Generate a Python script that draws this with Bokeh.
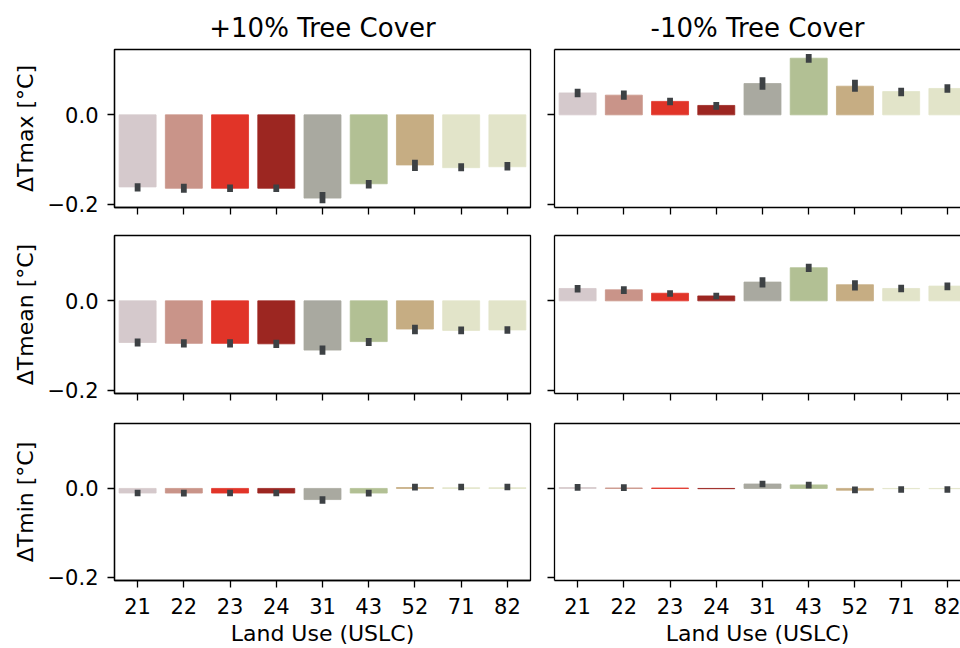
from bokeh.plotting import figure
from bokeh.models import Range1d, FixedTicker, CustomJSTickFormatter, LinearAxis, ColumnDataSource
from bokeh.layouts import gridplot
from bokeh.embed import file_html
from bokeh.resources import INLINE

nan = float("nan")

# ---------------- data ----------------
categories = ["21", "22", "23", "24", "31", "43", "52", "71", "82"]
bar_colors = ["#d5c9cc", "#c99489", "#e13428", "#9c2621", "#a9a9a0",
              "#b2c094", "#c6ad83", "#e2e4c9", "#e2e4c9"]

col_titles = ["+10% Tree Cover", "-10% Tree Cover"]
row_labels = ["\u0394Tmax [\u00b0C]", "\u0394Tmean [\u00b0C]", "\u0394Tmin [\u00b0C]"]
x_label = "Land Use (USLC)"
y_ticks = [-0.2, 0.0]

# +10% tree cover
tmax_inc = [-0.161, -0.164, -0.164, -0.164, -0.186, -0.154, -0.112, -0.118, -0.116]
tmax_inc_lo = [-0.1646, -0.1674, -0.166, -0.166, -0.191, -0.158, -0.119, -0.1196, -0.118]
tmax_inc_hi = [-0.1594, -0.1606, -0.162, -0.162, -0.179, -0.152, -0.107, -0.1144, -0.112]

tmean_inc = [-0.093, -0.095, -0.095, -0.096, -0.110, -0.091, -0.063, -0.066, -0.065]
tmean_inc_lo = [-0.0956, -0.0976, -0.0976, -0.0986, -0.114, -0.0946, -0.068, -0.068, -0.067]
tmean_inc_hi = [-0.0904, -0.0924, -0.0924, -0.0934, -0.106, -0.0894, -0.060, -0.064, -0.063]

tmin_inc = [-0.0103, -0.0104, -0.0104, -0.0104, -0.025, -0.0104, 0.002, 0.0015, 0.0015]
tmin_inc_lo = [-0.0112, -0.0114, -0.0112, -0.0112, -0.028, -0.0114, 0.002, 0.0022, 0.0022]
tmin_inc_hi = [-0.0092, -0.0094, -0.0096, -0.0096, -0.024, -0.0094, 0.004, 0.0038, 0.0038]

# -10% tree cover
tmax_dec = [0.049, 0.044, 0.030, 0.021, 0.070, 0.1265, 0.064, 0.052, 0.059]
tmax_dec_lo = [0.0458, 0.040, 0.028, 0.018, 0.0623, 0.1227, 0.058, 0.048, 0.056]
tmax_dec_hi = [0.0518, 0.048, 0.032, 0.022, 0.0777, 0.1293, 0.072, 0.054, 0.062]

tmean_dec = [0.0276, 0.0246, 0.017, 0.011, 0.042, 0.074, 0.036, 0.0276, 0.033]
tmean_dec_lo = [0.025, 0.022, 0.0154, 0.0101, 0.0364, 0.0712, 0.0297, 0.0256, 0.0304]
tmean_dec_hi = [0.029, 0.026, 0.0174, 0.0115, 0.0464, 0.0764, 0.0397, 0.0296, 0.0344]

tmin_dec = [0.002, 0.001, 0.0008, -0.0006, 0.010, 0.008, -0.004, -0.0006, -0.0006]
tmin_dec_lo = [0.0015, 0.001, nan, nan, 0.009, 0.0064, -0.0044, -0.003, -0.003]
tmin_dec_hi = [0.0035, 0.003, nan, nan, 0.011, 0.0084, -0.0024, -0.0014, -0.0014]

panels = [
    [(tmax_inc, tmax_inc_lo, tmax_inc_hi), (tmax_dec, tmax_dec_lo, tmax_dec_hi)],
    [(tmean_inc, tmean_inc_lo, tmean_inc_hi), (tmean_dec, tmean_dec_lo, tmean_dec_hi)],
    [(tmin_inc, tmin_inc_lo, tmin_inc_hi), (tmin_dec, tmin_dec_lo, tmin_dec_hi)],
]

# ---------------- layout ----------------
FONT = "DejaVu Sans"
TICK_FS = "21px"
LABEL_FS = "22px"
TITLE_FS = "26px"
ERR_COLOR = "#3d4144"

row_heights = [227, 186, 235]
row_top = [49, 8, 10]
row_bottom = [20, 20, 68]
col_widths = [542, 418]
px_per_unit = 416 / 9.0
right_frame_w = 418 - 12
right_x_end = -0.5 + right_frame_w / px_per_unit

minus_fmt = CustomJSTickFormatter(
    code="return (tick < -1e-9 ? '\u2212' : '') + Math.abs(tick).toFixed(1);")


def style_ticks(ax):
    ax.minor_tick_line_color = None
    ax.major_tick_in = 0
    ax.major_tick_out = 7
    ax.major_tick_line_width = 1.3
    ax.axis_line_width = 1.3
    ax.axis_line_color = "black"
    ax.major_tick_line_color = "black"


def hide_labels(ax):
    ax.major_label_text_color = None
    ax.major_label_standoff = 0


rows = []
for r in range(3):
    row_figs = []
    for c in range(2):
        vals, lo, hi = panels[r][c]
        left = (c == 0)
        bottom = (r == 2)
        p = figure(width=col_widths[c], height=row_heights[r],
                   x_range=Range1d(-0.5, 8.5 if left else right_x_end),
                   y_range=Range1d(-0.207, 0.146),
                   output_backend="svg", toolbar_location=None,
                   min_border_left=114 if left else 12,
                   min_border_right=12 if left else 0,
                   min_border_top=row_top[r], min_border_bottom=row_bottom[r])
        p.background_fill_color = "white"
        p.border_fill_color = "white"
        p.xgrid.visible = False
        p.ygrid.visible = False

        idx = list(range(len(categories)))
        src = ColumnDataSource(dict(x=idx, top=vals, color=bar_colors,
                                    lo=lo, hi=hi))
        p.vbar(x="x", top="top", bottom=0, width=0.8, source=src,
               fill_color="color", line_color="color", line_width=0.8)
        p.segment(x0="x", y0="lo", x1="x", y1="hi", source=src,
                  line_color=ERR_COLOR, line_width=5.8, line_cap="square")

        # x axis (below)
        xa = p.below[0]
        xa.ticker = FixedTicker(ticks=idx)
        xa.major_label_overrides = {i: categories[i] for i in idx}
        style_ticks(xa)
        if bottom:
            xa.major_label_text_font = FONT
            xa.major_label_text_font_size = TICK_FS
            xa.major_label_text_color = "black"
            xa.major_label_standoff = 10
            xa.axis_label = x_label
            xa.axis_label_text_font = FONT
            xa.axis_label_text_font_size = LABEL_FS
            xa.axis_label_text_font_style = "normal"
            xa.axis_label_text_color = "black"
            xa.axis_label_standoff = 4
        else:
            hide_labels(xa)

        # y axis (left)
        ya = p.left[0]
        ya.ticker = FixedTicker(ticks=y_ticks)
        style_ticks(ya)
        if left:
            ya.formatter = minus_fmt
            ya.major_label_text_font = FONT
            ya.major_label_text_font_size = TICK_FS
            ya.major_label_text_color = "black"
            ya.major_label_standoff = 9
            ya.axis_label = row_labels[r]
            ya.axis_label_text_font = FONT
            ya.axis_label_text_font_size = LABEL_FS
            ya.axis_label_text_font_style = "normal"
            ya.axis_label_text_color = "black"
            ya.axis_label_standoff = 7
        else:
            hide_labels(ya)

        if left:
            p.outline_line_color = "black"
            p.outline_line_width = 1.3
        else:
            # right edge of this panel is cut by the page edge: top line only
            p.outline_line_color = None
            top_axis = LinearAxis(ticker=FixedTicker(ticks=[]),
                                  major_tick_out=0, major_tick_in=0,
                                  minor_tick_out=0, minor_tick_in=0,
                                  major_label_text_color=None,
                                  major_label_standoff=0,
                                  axis_line_color="black", axis_line_width=1.3)
            p.add_layout(top_axis, "above")

        if r == 0:
            p.title.text = col_titles[c]
            p.title.align = "center"
            p.title.text_font = FONT
            p.title.text_font_size = TITLE_FS
            p.title.text_font_style = "normal"
            p.title.text_color = "black"
            p.title.standoff = 13
            if not left:
                p.title.offset = 4
        row_figs.append(p)
    rows.append(row_figs)

grid = gridplot(rows, toolbar_location=None)

open("out.html", "w").write(file_html(grid, INLINE))
